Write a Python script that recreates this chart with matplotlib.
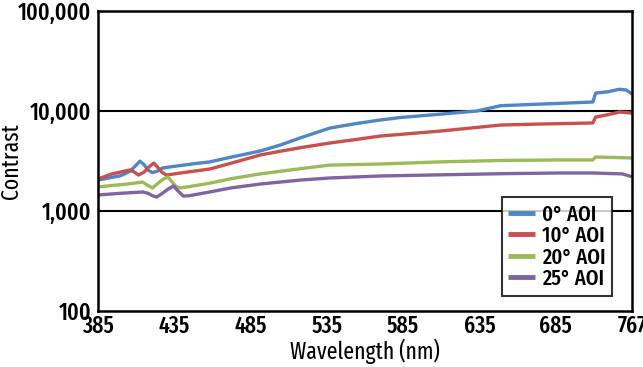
import matplotlib.pyplot as plt
from matplotlib.ticker import FuncFormatter, NullLocator

# Contrast vs wavelength at several angles of incidence
wl_0 = [385, 401, 408, 412, 415, 418, 421, 424, 428, 431, 440, 452, 465, 480, 501, 515, 530,
        551, 570, 587, 601, 630, 656, 673, 700, 720, 739, 741, 750, 758, 763, 767]
c_0 = [2040, 2250, 2500, 2850, 3150, 2900, 2550, 2420, 2520, 2690, 2800, 2950, 3100, 3450, 3980,
       4550, 5400, 6760, 7500, 8130, 8600, 9300, 10000, 11300, 11700, 12000, 12300, 15100, 15600,
       16500, 16200, 14800]

wl_10 = [385, 395, 401, 408, 411, 414, 418, 422, 425, 428, 431, 434, 438, 444, 465, 480, 501,
         515, 530, 551, 570, 587, 630, 673, 700, 720, 739, 741, 750, 758, 767]
c_10 = [2090, 2350, 2450, 2570, 2450, 2290, 2450, 2800, 3020, 2700, 2420, 2290, 2330, 2400, 2630,
        3000, 3630, 3950, 4300, 4790, 5200, 5620, 6300, 7240, 7400, 7500, 7590, 8700, 9200, 9770, 9550]

wl_20 = [385, 395, 406, 417, 420, 424, 428, 432, 435, 438, 441, 444, 450, 465, 480, 501, 530,
         551, 587, 630, 673, 715, 739, 741, 767]
c_20 = [1740, 1800, 1860, 1950, 1820, 1700, 1900, 2100, 2190, 1950, 1750, 1700, 1750, 1900, 2100,
        2350, 2650, 2880, 2950, 3100, 3200, 3240, 3240, 3470, 3390]

wl_25 = [385, 400, 417, 421, 424, 427, 431, 435, 439, 442, 446, 450, 465, 480, 501, 530, 551,
         587, 630, 673, 715, 739, 760, 767]
c_25 = [1445, 1500, 1550, 1500, 1420, 1380, 1500, 1650, 1780, 1600, 1410, 1420, 1550, 1700, 1860,
        2040, 2140, 2240, 2300, 2360, 2400, 2400, 2350, 2200]

series = [(wl_0, c_0, '0° AOI', '#4F86C6'),
          (wl_10, c_10, '10° AOI', '#C9504D'),
          (wl_20, c_20, '20° AOI', '#9BBB59'),
          (wl_25, c_25, '25° AOI', '#8064A2')]

tick_labels = ['385', '435', '485', '535', '585', '635', '685', '767']
wl_min, wl_max = 385, 767

plt.rcParams['font.family'] = ['Fira Sans Extra Condensed', 'DejaVu Sans']
plt.rcParams['font.weight'] = 'medium'
fs = 17

fig = plt.figure(figsize=(6.43, 3.67), dpi=100)
ax = fig.add_axes([0.1524, 0.1526, 0.8305, 0.8174])

for wl, c, name, color in series:
    ax.plot(wl, c, color=color, lw=2.4, label=name, solid_capstyle='butt')

ax.set_yscale('log')
ax.set_ylim(100, 100000)
ax.set_xlim(wl_min, wl_max)

# category-style axis: evenly spaced labels
step = (wl_max - wl_min) / (len(tick_labels) - 1)
ax.set_xticks([wl_min + i * step for i in range(len(tick_labels))])
ax.set_xticklabels(tick_labels)
ax.set_yticks([100, 1000, 10000, 100000])
ax.yaxis.set_major_formatter(FuncFormatter(lambda v, p: f'{int(v):,}'))
ax.yaxis.set_minor_locator(NullLocator())

for v in [1000, 10000]:
    ax.axhline(v, color='black', lw=1.5, zorder=0)

ax.tick_params(length=0, labelsize=fs, pad=5)
ax.tick_params(axis='x', pad=3)
for s in ax.spines.values():
    s.set_linewidth(1.8)

ax.set_xlabel('Wavelength (nm)', fontsize=fs, labelpad=0)
ax.set_ylabel('Contrast', fontsize=fs)
ax.yaxis.set_label_coords(-0.14, 0.5)

leg = ax.legend(loc='lower right', fontsize=16, frameon=True, fancybox=False,
                edgecolor='black', handlelength=1.2, handletextpad=0.3,
                labelspacing=0.0, borderpad=0.3, borderaxespad=0,
                bbox_to_anchor=(0.962, 0.05))
leg.get_frame().set_linewidth(1.5)
for line in leg.get_lines():
    line.set_linewidth(3.5)

plt.savefig('out.png', dpi=100)
